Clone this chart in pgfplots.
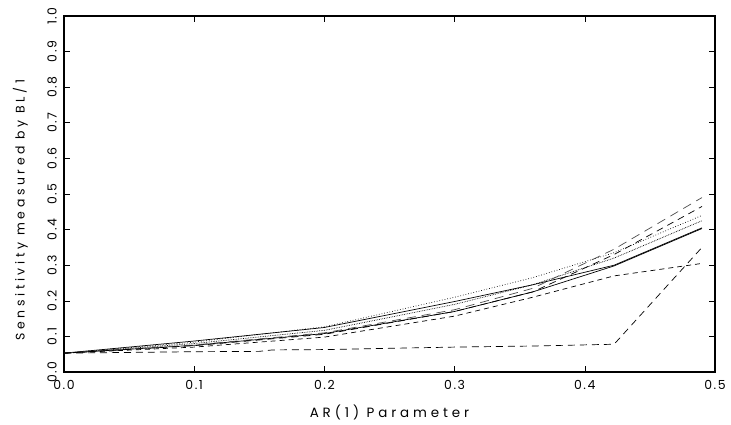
\documentclass[border=0pt]{standalone}
\usepackage{fontspec}
\setmainfont{Poppins}[LetterSpace=29]
\newfontfamily\tickfont{Poppins}[LetterSpace=12]
\usepackage{pgfplots}
\pgfplotsset{compat=1.18}
\begin{document}
\begin{tikzpicture}
\begin{axis}[
  scale only axis, width=651bp, height=356bp,
  xmin=0, xmax=0.5, ymin=0, ymax=1,
  xtick={0,0.1,0.2,0.3,0.4,0.5},
  ytick={0,0.1,0.2,0.3,0.4,0.5,0.6,0.7,0.8,0.9,1},
  tick align=inside, xtick pos=both, ytick pos=both,
  major tick length=6bp,
  axis line style={line width=1.8bp},
  tick style={line width=0.6bp, black},
  /pgf/number format/.cd, fixed, fixed zerofill, precision=1, assume math mode=true,
  /pgfplots/.cd,
  xticklabel style={font=\tickfont\fontsize{12.5}{13}\selectfont, anchor=north, inner sep=0pt, yshift=-8bp},
  yticklabel style={font=\tickfont\fontsize{12.5}{13}\selectfont, xshift=-7bp, rotate=90, anchor=south, inner sep=0pt},
  xlabel={AR(1) Parameter},
  ylabel={Sensitivity measured by BL/1},
  xlabel style={font=\fontsize{13.5}{15}\selectfont, at={(axis description cs:0.5,0)}, anchor=north, inner sep=0pt, yshift=-33bp},
  ylabel style={font=\fontsize{12.5}{14}\selectfont, at={(axis description cs:0,0.455)}, anchor=south, inner sep=0pt, yshift=36bp},
  every axis plot/.append style={line width=0.7bp, black, no marks},
]
% solid upper
\addplot[solid] coordinates {(0,0.053) (0.1,0.087) (0.2,0.125) (0.3,0.198) (0.36,0.245) (0.4225,0.30) (0.49,0.405)};
% solid lower
\addplot[solid] coordinates {(0,0.053) (0.1,0.075) (0.2,0.108) (0.3,0.17) (0.36,0.225) (0.4225,0.298) (0.49,0.403)};
% dotted upper
\addplot[dotted] coordinates {(0,0.053) (0.1,0.084) (0.2,0.127) (0.3,0.21) (0.36,0.265) (0.4225,0.335) (0.49,0.44)};
% dotted second
\addplot[densely dotted] coordinates {(0,0.053) (0.1,0.08) (0.2,0.117) (0.3,0.19) (0.36,0.245) (0.4225,0.32) (0.49,0.425)};
% long dash top
\addplot[dash pattern=on 9bp off 6bp, black!70] coordinates {(0,0.053) (0.1,0.076) (0.2,0.11) (0.3,0.175) (0.36,0.235) (0.4225,0.345) (0.49,0.49)};
% long dash second
\addplot[dash pattern=on 7bp off 5bp] coordinates {(0,0.053) (0.1,0.074) (0.2,0.106) (0.3,0.17) (0.36,0.225) (0.4225,0.33) (0.49,0.465)};
% short dash lower
\addplot[dash pattern=on 5bp off 4bp] coordinates {(0,0.053) (0.1,0.07) (0.2,0.098) (0.3,0.157) (0.36,0.21) (0.4225,0.27) (0.49,0.305)};
% bottom dashed
\addplot[dash pattern=on 7bp off 5bp] coordinates {(0,0.053) (0.1,0.057) (0.15,0.058) (0.16,0.062) (0.2,0.063) (0.3,0.07) (0.36,0.073) (0.4225,0.078) (0.49,0.35)};
\end{axis}
\pgfresetboundingbox
\path ([xshift=-64bp,yshift=-52bp]current axis.south west) rectangle ([xshift=16bp,yshift=16bp]current axis.north east);
\end{tikzpicture}
\end{document}
